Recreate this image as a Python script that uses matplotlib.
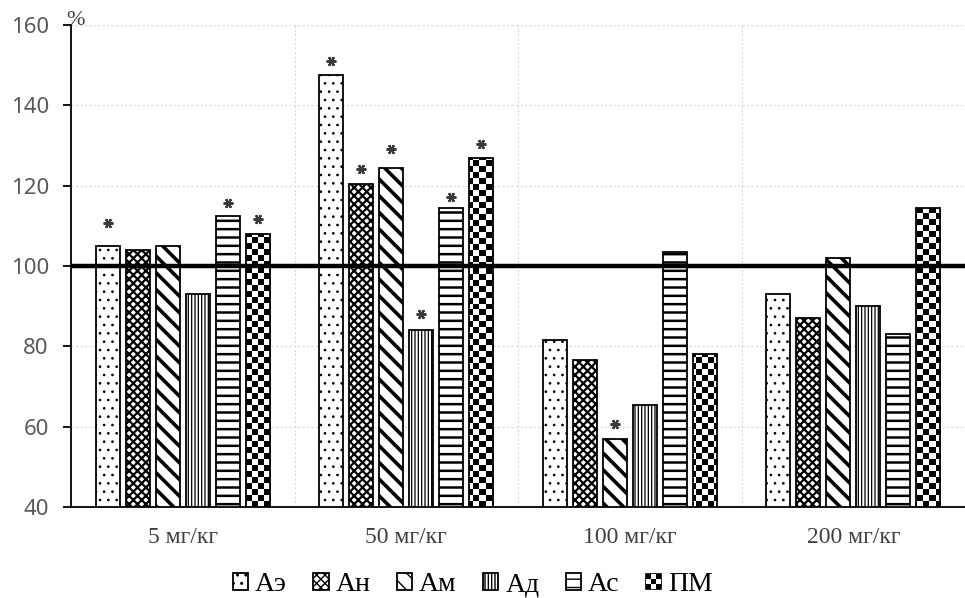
import numpy as np
import matplotlib
matplotlib.use('Agg')
import matplotlib.pyplot as plt
from matplotlib.patches import Rectangle
from matplotlib.legend_handler import HandlerBase

plt.rcParams['font.family'] = ['Liberation Serif', 'DejaVu Serif']

groups = ['5 мг/кг', '50 мг/кг', '100 мг/кг', '200 мг/кг']
series = ['Аэ', 'Ан', 'Ам', 'Ад', 'Ас', 'ПМ']

ae = [105, 147.5, 81.5, 93]
an = [104, 120.5, 76.5, 87]
am = [105, 124.5, 57, 102]
ad = [93, 84, 65.5, 90]
ac = [112.5, 114.5, 103.5, 83]
pm = [108, 127, 78, 114.5]
values = [ae, an, am, ad, ac, pm]

# height of the significance mark (*) per series and group, None = no mark
star_ae = [110.7, 151.1, None, None]
star_an = [None, 124.1, None, None]
star_am = [None, 129.2, 60.8, None]
star_ad = [None, 88.0, None, None]
star_ac = [115.8, 117.2, None, None]
star_pm = [111.7, 130.4, None, None]
stars = [star_ae, star_an, star_am, star_ad, star_ac, star_pm]

hatches = ['..', 'xxxx', '\\\\', '|||||', '--', None]
hatch_lw = [0.7, 1.6, 2.6, 0.9, 1.8, 1.0]


class CheckerHandler(HandlerBase):
    def create_artists(self, legend, orig_handle, xdescent, ydescent,
                       width, height, fontsize, trans):
        s = min(width, height)
        x0 = -xdescent + (width - s) / 2
        y0 = -ydescent + (height - s) / 2
        arts = [Rectangle((x0, y0), s, s, facecolor='black', edgecolor='black',
                          lw=1.2, transform=trans)]
        n = 3
        c = s / n
        for i in range(n):
            for j in range(n):
                if (i + j) % 2 == 1:
                    arts.append(Rectangle((x0 + i * c, y0 + j * c), c, c,
                                          facecolor='white', edgecolor='none',
                                          transform=trans))
        return arts


fig = plt.figure(figsize=(9.65, 5.98), dpi=100)
ax = fig.add_axes([0.0736, 0.152, 0.9264, 0.806])

x = np.arange(len(groups))
slot = 0.134
width = 0.108

handles = []
for i, (name, vals) in enumerate(zip(series, values)):
    pos = x + (i - 2.5) * slot
    if hatches[i] is not None:
        bars = ax.bar(pos, vals, width, bottom=0, facecolor='white',
                      edgecolor='black', linewidth=1.3, hatch=hatches[i],
                      zorder=2, label=name)
        for b in bars:
            if hasattr(b, 'set_hatch_linewidth'):
                b.set_hatch_linewidth(hatch_lw[i])
    else:
        bars = ax.bar(pos, vals, width, bottom=0, facecolor='none',
                      edgecolor='black', linewidth=1.3, zorder=3, label=name)
        yy, xx = np.indices((81, 149))
        checker = ((yy + xx) % 2).astype(float)
        for b in bars:
            im = ax.imshow(checker, cmap='gray', extent=(-0.5, 3.5, 40, 160.5),
                           aspect='auto', interpolation='nearest', zorder=2.5)
            im.set_clip_path(b)
    handles.append(bars[0])

    sx = [p for p, s in zip(pos, stars[i]) if s is not None]
    sy = [s for s in stars[i] if s is not None]
    ax.plot(sx, sy, linestyle='none', marker=(6, 2, 90), markersize=7,
            markeredgewidth=1.6, color='#3a3a3a', zorder=5)

ax.axhline(100, color='black', linewidth=3.2, zorder=4)

ax.set_xlim(-0.5, 3.5)
ax.set_ylim(40, 160)
ax.set_yticks(np.arange(40, 161, 20))
ax.set_xticks(x)
ax.set_xticklabels(groups, fontsize=17, color='#404040')
ax.set_xticks([0.5, 1.5, 2.5], minor=True)
ax.tick_params(axis='x', which='both', length=0, pad=14)
ax.tick_params(axis='y', labelsize=16, labelcolor='#595959', length=6,
               width=1.3, color='black', pad=10)
for lab in ax.get_yticklabels():
    lab.set_fontfamily(['Noto Sans', 'DejaVu Sans'])
ax.set_axisbelow(True)
ax.grid(axis='y', which='major', color='#d9d9d9', linestyle=(0, (2, 2)), linewidth=0.8)
ax.grid(axis='x', which='minor', color='#d9d9d9', linestyle=(0, (2, 2)), linewidth=0.8)
ax.grid(axis='x', which='major', visible=False)

for s in ['top', 'right']:
    ax.spines[s].set_visible(False)
ax.spines['left'].set_linewidth(1.3)
ax.spines['bottom'].set_linewidth(1.3)

ax.annotate('%', (0, 1), xycoords='axes fraction', xytext=(3, 3),
            textcoords='offset points', fontsize=16, color='#404040',
            ha='center', va='center')

fig.legend(handles, series, loc='center', bbox_to_anchor=(0.49, 0.022),
           ncol=6, frameon=False, fontsize=20, handlelength=0.55, handleheight=0.55,
           handletextpad=0.25, columnspacing=0.95,
           handler_map={handles[5]: CheckerHandler()})

fig.savefig('out.png', dpi=100)
